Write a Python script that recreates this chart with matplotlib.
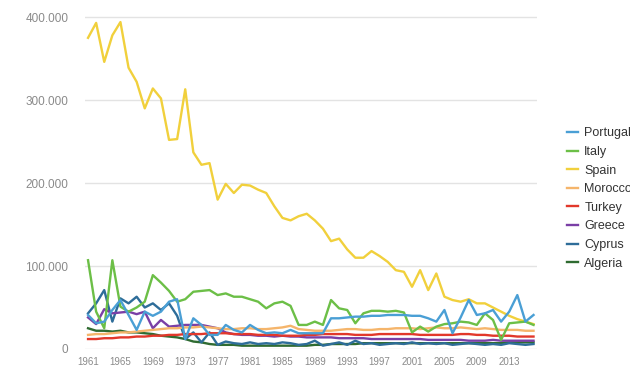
import matplotlib.pyplot as plt
import matplotlib.ticker as ticker

years = list(range(1961, 2017))

# values in thousands
portugal = [41, 31, 33, 47, 59, 41, 23, 45, 40, 45,
            57, 60, 12, 37, 29, 17, 17, 29, 23, 20,
            29, 23, 19, 20, 19, 23, 19, 19, 19, 19,
            37, 37, 38, 39, 39, 40, 40, 41, 41, 41,
            40, 40, 37, 33, 47, 19, 38, 59, 41, 43,
            47, 33, 45, 65, 33, 41]
italy = [107, 45, 25, 107, 51, 45, 50, 57, 89, 80,
         70, 57, 60, 69, 70, 71, 65, 67, 63, 63,
         60, 57, 49, 55, 57, 52, 29, 29, 33, 29,
         59, 49, 47, 31, 43, 46, 46, 45, 46, 44,
         20, 27, 21, 27, 30, 31, 33, 32, 29, 43,
         35, 11, 31, 32, 33, 29]
spain = [375, 393, 346, 378, 394, 339, 322, 290, 314, 302,
         252, 253, 313, 237, 222, 224, 180, 199, 188, 198,
         197, 192, 188, 172, 158, 155, 160, 163, 155, 145,
         130, 133, 120, 110, 110, 118, 112, 105, 95, 93,
         75, 95, 71, 91, 63, 59, 57, 60, 55, 55,
         50, 45, 40, 36, 33, 30]
morocco = [17, 18, 18, 19, 20, 20, 21, 22, 23, 24,
           25, 25, 26, 26, 27, 26, 25, 24, 24, 25,
           25, 24, 24, 25, 26, 28, 24, 23, 22, 22,
           22, 23, 24, 24, 23, 23, 24, 24, 25, 25,
           25, 24, 25, 26, 25, 25, 26, 25, 24, 25,
           24, 23, 23, 23, 22, 22]
turkey = [12, 12, 13, 13, 14, 14, 15, 15, 16, 16,
          17, 17, 18, 18, 18, 19, 19, 19, 18, 18,
          18, 17, 17, 17, 16, 16, 16, 17, 17, 18,
          18, 18, 18, 17, 17, 17, 18, 18, 18, 18,
          18, 17, 17, 17, 17, 17, 18, 18, 17, 17,
          16, 16, 16, 15, 15, 15]
greece = [38, 30, 48, 43, 44, 45, 42, 45, 25, 35,
          27, 28, 29, 29, 29, 27, 25, 20, 18, 17,
          17, 16, 16, 15, 16, 15, 15, 14, 14, 14,
          14, 13, 13, 13, 13, 12, 12, 12, 12, 12,
          12, 12, 11, 11, 11, 11, 11, 10, 10, 10,
          11, 10, 10, 10, 10, 10]
cyprus = [43, 55, 71, 33, 61, 55, 63, 50, 55, 47,
          55, 40, 12, 20, 8, 20, 5, 9, 7, 6,
          8, 6, 7, 6, 8, 7, 5, 6, 10, 4,
          6, 8, 5, 10, 6, 7, 5, 6, 7, 6,
          8, 6, 7, 6, 7, 5, 6, 7, 6, 5,
          6, 5, 7, 6, 5, 6]
algeria = [25, 22, 22, 21, 22, 20, 20, 19, 18, 16,
           15, 14, 12, 9, 8, 6, 5, 5, 5, 4,
           4, 4, 4, 4, 4, 4, 4, 4, 5, 5,
           6, 6, 6, 6, 7, 7, 7, 7, 7, 7,
           7, 7, 7, 7, 7, 7, 7, 7, 7, 7,
           7, 7, 8, 8, 8, 8]

series = [
    ("Portugal", portugal, "#4a9fd5"),
    ("Italy", italy, "#6cbf47"),
    ("Spain", spain, "#f1d03c"),
    ("Morocco", morocco, "#f5b56b"),
    ("Turkey", turkey, "#e2382b"),
    ("Greece", greece, "#7a3fa6"),
    ("Cyprus", cyprus, "#2e6d99"),
    ("Algeria", algeria, "#2f6b31"),
]

plt.rcParams['font.family'] = ['Liberation Sans', 'DejaVu Sans']

fig = plt.figure(figsize=(6.3, 3.71), dpi=100)
ax = fig.add_axes([0.135, 0.0593, 0.717, 0.917])

# draw back to front so Portugal ends up on top like in the original
for name, vals, color in reversed(series):
    ax.plot(years, [v * 1000 for v in vals], color=color, lw=1.7,
            solid_joinstyle='round', label=name)

ax.set_xlim(1960.63, 2016.4)
ax.set_ylim(0, 410000)
ax.set_yticks([0, 100000, 200000, 300000, 400000])
ax.yaxis.set_major_formatter(ticker.FuncFormatter(
    lambda v, p: f"{int(v):,}".replace(",", ".")))
ax.set_xticks(list(range(1961, 2016, 4)))

ax.grid(axis='y', color='#e3e3e3', lw=1)
ax.set_axisbelow(True)
for s in ax.spines.values():
    s.set_visible(False)
ax.tick_params(axis='both', length=0, colors='#8a8a8a')
ax.tick_params(axis='y', pad=12, labelsize=8.5)
ax.tick_params(axis='x', pad=6, labelsize=7)

# legend sits at the right edge; the original crops the long names too
handles, labels = ax.get_legend_handles_labels()
leg = fig.legend(handles[::-1], labels[::-1], loc='upper left',
                 bbox_to_anchor=(0.9, 0.657), frameon=False,
                 fontsize=9, handlelength=0.9, handletextpad=0.48,
                 labelspacing=0.53, borderaxespad=0, borderpad=0)
for t in leg.get_texts():
    t.set_color('#333333')

fig.savefig("out.png", dpi=100)
